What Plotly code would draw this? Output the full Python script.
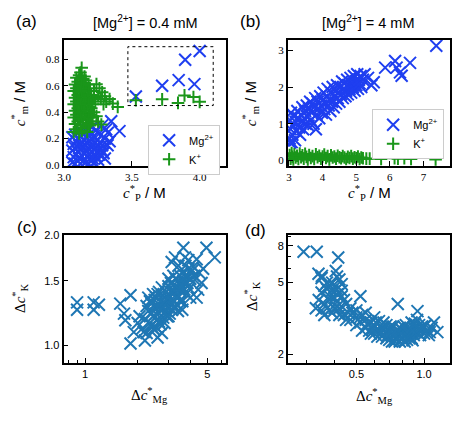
import plotly.graph_objects as go
import math

W, H = 458, 421

# ---------------- data ----------------
# panel (a): [Mg2+] = 0.4 mM
A_MG_X = [3.06,3.08,3.10,3.12,3.14,3.16,3.18,3.20,3.22,3.07,3.09,3.11,3.13,3.15,3.17,3.19,3.21,3.23,3.25,
          3.06,3.08,3.10,3.12,3.14,3.16,3.18,3.20,3.22,3.24,3.26,3.07,3.09,3.11,3.13,3.15,3.17,3.19,3.21,3.23,3.25,3.27,
          3.06,3.08,3.10,3.12,3.14,3.16,3.18,3.20,3.22,3.24,3.26,3.28,3.12,3.15,3.18,3.21,3.23,3.26,3.29,3.30,3.286,
          3.30,3.32,3.322,3.335,3.347,3.408,3.28,3.31,
          3.529,3.723,3.845,3.961,3.893,4.0]
A_MG_Y = [0.02,0.01,0.03,0.01,0.03,0.02,0.01,0.03,0.02,0.06,0.08,0.05,0.07,0.09,0.06,0.08,0.05,0.07,0.04,
          0.11,0.13,0.10,0.12,0.14,0.11,0.13,0.10,0.12,0.10,0.08,0.16,0.18,0.15,0.17,0.19,0.16,0.18,0.15,0.17,0.14,0.12,
          0.21,0.23,0.20,0.22,0.24,0.21,0.23,0.20,0.22,0.19,0.17,0.15,0.26,0.28,0.27,0.29,0.26,0.24,0.09,0.05,0.098,
          0.20,0.15,0.245,0.18,0.331,0.257,0.30,0.27,
          0.519,0.60,0.642,0.612,0.796,0.862]
A_K_X = [3.07,3.09,3.11,3.13,3.15,3.17,3.19,3.08,3.10,3.12,3.14,3.16,3.18,3.20,3.07,3.09,3.11,3.13,3.15,3.17,3.19,3.21,
         3.08,3.10,3.12,3.14,3.16,3.18,3.20,3.22,3.07,3.09,3.11,3.13,3.15,3.17,3.19,3.21,3.23,
         3.08,3.10,3.12,3.14,3.16,3.18,3.20,3.22,3.25,3.07,3.09,3.11,3.13,3.15,3.17,3.19,3.22,
         3.08,3.10,3.12,3.14,3.16,3.18,3.09,3.11,3.13,3.15,3.12,3.129,
         3.238,3.26,3.28,3.30,3.335,3.359,3.395,3.31,3.27,3.238,3.274,3.25,3.29,
         3.529,3.723,3.84,3.888,3.954,4.0]
A_K_Y = [0.25,0.27,0.24,0.26,0.28,0.25,0.30,0.31,0.33,0.30,0.32,0.34,0.31,0.33,0.36,0.38,0.35,0.37,0.39,0.36,0.38,0.36,
         0.41,0.43,0.40,0.42,0.44,0.41,0.43,0.40,0.46,0.48,0.45,0.47,0.49,0.46,0.48,0.46,0.48,
         0.51,0.53,0.50,0.52,0.54,0.51,0.53,0.51,0.52,0.56,0.58,0.55,0.57,0.59,0.56,0.58,0.56,
         0.61,0.63,0.60,0.62,0.64,0.61,0.66,0.68,0.65,0.67,0.70,0.735,
         0.612,0.58,0.55,0.52,0.50,0.465,0.44,0.48,0.50,0.37,0.306,0.33,0.46,
         0.49,0.497,0.47,0.527,0.515,0.478]

# panel (b): [Mg2+] = 4 mM
B_MG_X = [3.02,3.05,3.03,3.06,3.10,3.12,3.15,3.18,3.20,3.22,3.25,3.28,3.30,3.33,3.35,3.38,3.40,3.42,3.45,3.48,
          3.50,3.53,3.55,3.58,3.60,3.63,3.65,3.68,3.70,3.73,3.75,3.78,3.80,3.82,3.85,3.88,3.90,3.93,3.95,3.98,
          4.00,4.03,4.05,4.08,4.10,4.13,4.15,4.18,4.20,4.23,4.25,4.28,4.30,4.33,4.35,4.38,4.40,4.43,4.45,4.48,
          4.50,4.53,4.55,4.58,4.60,4.63,4.65,4.68,4.70,4.73,4.75,4.78,4.80,4.83,4.85,4.88,4.90,4.93,4.95,4.98,
          5.00,5.03,5.05,5.08,5.10,5.13,5.15,5.20,5.25,3.08,3.03,
          5.52,5.86,6.156,6.20,6.30,6.35,6.60,7.38,5.35,5.45]
B_MG_Y = [0.60,0.85,1.10,1.30,0.70,0.95,1.20,0.55,1.05,0.80,1.35,1.15,0.90,0.70,1.25,1.05,1.45,0.85,1.15,1.35,
          1.00,1.50,1.20,0.95,1.40,1.60,1.10,1.30,1.55,1.00,1.45,1.70,0.85,1.25,1.60,1.40,1.15,1.75,1.50,1.30,
          1.65,1.85,1.40,1.55,1.25,1.75,1.95,1.50,1.65,1.35,1.85,1.60,2.00,1.45,1.75,1.90,1.55,2.05,1.70,1.85,
          1.60,2.00,1.80,2.15,1.70,1.95,2.10,1.75,1.90,2.20,1.80,2.05,1.95,2.25,1.85,2.10,2.00,2.30,1.90,2.15,
          2.05,2.35,1.95,2.20,2.10,2.30,2.00,2.20,2.35,0.50,0.49,
          2.13,2.53,2.71,2.53,2.40,2.31,2.66,3.125,2.25,2.05]
B_K_X = [3.02,3.05,3.08,3.10,3.13,3.16,3.20,3.24,3.28,3.32,3.36,3.40,3.44,3.48,3.52,3.56,3.60,3.65,3.70,3.75,
         3.80,3.85,3.90,3.95,4.00,4.05,4.10,4.15,4.20,4.25,4.30,4.35,4.40,4.45,4.50,4.55,4.60,4.65,4.70,4.75,
         4.80,4.85,4.90,4.95,5.00,5.05,5.10,5.15,5.20,5.30,
         5.40,5.74,6.14,6.24,6.43,6.63,7.36]
B_K_Y = [0.15,0.05,0.20,0.10,0.03,0.17,0.08,0.13,0.04,0.19,0.09,0.14,0.05,0.18,0.10,0.03,0.15,0.07,0.12,0.04,
         0.17,0.09,0.13,0.05,0.11,0.16,0.07,0.12,0.03,0.14,0.08,0.11,0.05,0.13,0.09,0.06,0.12,0.08,0.04,0.10,
         0.07,0.12,0.05,0.09,0.06,0.11,0.04,0.08,0.06,0.05,
         0.05,0.04,0.06,0.05,0.06,0.04,0.03]

# panel (c)
C_X = [0.90,0.90,1.12,1.12,1.20,1.59,1.82,1.67,1.70,1.82,1.90,2.16,2.47,3.65,4.95,5.52,3.13,3.73,4.35,3.0,4.74,4.35,
       3.27,3.42,3.90,4.16,3.90,4.25,4.64,4.44,3.57,
       2.12,2.20,2.25,2.30,2.35,2.40,2.45,2.50,2.50,2.55,2.60,2.60,2.65,2.70,2.70,2.75,2.80,2.80,2.85,2.90,
       2.90,2.95,3.00,3.00,3.05,3.10,3.10,3.15,3.20,3.25,3.30,3.30,3.35,3.40,3.45,3.50,3.55,3.60,3.65,3.70,
       3.75,3.80,3.85,3.95,2.35,2.45,2.55,2.65,2.75,2.85,2.95,3.05,3.15,3.25,3.40,3.20,2.25,2.40,2.30,2.05,
       2.00,2.60,2.75,3.50,3.60,2.20,
       2.40,2.50,2.60,2.70,2.80,2.90,3.00,3.10,3.20,3.30,3.40,3.50,2.55,2.65,2.85,3.00,3.20,3.35,3.45,3.70,
       3.80,4.00,4.10,3.90,3.75,4.20,4.50,4.00,3.60]
C_Y = [1.31,1.25,1.31,1.25,1.29,1.30,1.37,1.22,1.17,1.01,1.086,1.086,1.108,1.85,1.85,1.74,1.69,1.74,1.72,1.52,1.62,1.35,
       1.74,1.65,1.71,1.64,1.54,1.51,1.48,1.42,1.45,
       1.11,1.18,1.08,1.24,1.15,1.30,1.20,1.10,1.27,1.35,1.18,1.28,1.22,1.32,1.14,1.26,1.37,1.19,1.30,1.24,
       1.40,1.33,1.27,1.45,1.36,1.30,1.48,1.40,1.33,1.44,1.37,1.52,1.29,1.44,1.36,1.48,1.40,1.32,1.50,1.42,
       1.55,1.38,1.48,1.43,1.32,1.38,1.12,1.40,1.44,1.15,1.20,1.22,1.25,1.28,1.24,1.55,1.28,1.13,1.35,1.20,
       1.15,1.05,1.08,1.32,1.58,1.03,
       1.22,1.33,1.38,1.25,1.30,1.33,1.35,1.40,1.42,1.45,1.50,1.55,1.22,1.16,1.22,1.20,1.27,1.35,1.42,1.48,
       1.55,1.52,1.60,1.62,1.65,1.55,1.58,1.35,1.25]

# panel (d)
D_X = [0.291,0.333,0.415,0.405,0.339,0.351,0.521,0.764,0.935,1.107,1.146,0.889,0.38,
       0.34,0.35,0.36,0.37,0.38,0.39,0.40,0.41,0.42,0.40,0.38,0.36,0.37,0.41,0.43,0.44,0.42,0.45,0.46,0.35,
       0.39,0.41,0.43,0.33,0.35,0.44,0.47,
       0.48,0.50,0.52,0.50,0.53,0.55,0.55,0.57,0.58,0.60,0.60,0.62,0.63,0.65,0.65,0.67,0.68,0.70,0.70,0.72,
       0.73,0.75,0.75,0.77,0.78,0.80,0.80,0.82,0.83,0.85,0.85,0.87,0.88,0.90,0.90,0.92,0.93,0.95,0.95,0.97,
       1.00,1.00,1.03,1.06,1.08,0.58,0.62,0.66,0.72,0.78,0.84,0.88,0.55,0.60,0.50,0.47,0.53,
       0.52,0.56,0.59,0.61,0.64,0.66,0.69,0.71,0.74,0.76,0.79,0.81,0.84,0.86,0.89,0.91,0.94,0.96,0.98,1.02,
       1.05,0.68,0.74,0.82,0.45,0.42,0.40,0.38,0.37,0.39,0.43,0.36,0.41]
D_Y = [7.43,7.43,6.9,5.8,5.6,5.45,4.2,3.8,3.47,3.0,2.65,2.39,4.82,
       4.0,4.4,3.8,4.6,4.2,5.0,4.7,4.3,5.2,3.6,3.5,3.3,5.0,3.9,4.5,4.0,3.6,3.8,3.4,5.3,
       4.5,5.4,4.9,3.6,3.5,3.3,3.6,
       3.4,3.2,3.0,2.9,3.3,2.8,3.1,2.7,3.0,2.6,2.9,2.75,3.05,2.5,2.8,2.65,2.45,2.7,2.4,2.55,
       2.85,2.4,2.65,2.5,2.8,2.45,2.7,2.55,2.9,2.5,2.75,2.6,3.0,2.55,2.8,2.65,3.1,2.6,2.9,2.7,
       2.6,2.85,2.7,2.65,2.8,2.6,2.5,3.0,2.35,2.35,2.4,2.45,3.4,3.2,3.5,3.1,2.7,
       3.2,2.95,2.75,3.0,2.6,2.75,2.55,2.85,2.55,2.75,2.6,2.85,2.65,2.45,2.7,2.95,2.75,2.55,2.85,2.9,
       2.55,2.9,2.35,2.35,3.1,3.3,4.1,4.0,3.6,3.4,4.2,4.8,4.6]

BLUE = "#1f3ff0"
GREEN = "#1a961a"
TAB = "#1f77b4"

def px_x(p):
    return p / W

def px_y(p):
    return 1 - p / H

fig = go.Figure()

def mk(symbol, color, size, lw):
    return dict(symbol=symbol, size=size, color=color, line=dict(color=color, width=lw))

fig.add_trace(go.Scatter(x=A_MG_X, y=A_MG_Y, mode="markers", name="Mg<sup>2+</sup>",
                         marker=mk("x-thin", BLUE, 12, 2), xaxis="x", yaxis="y", legend="legend"))
fig.add_trace(go.Scatter(x=A_K_X, y=A_K_Y, mode="markers", name="K<sup>+</sup>",
                         marker=mk("cross-thin", GREEN, 9, 2), xaxis="x", yaxis="y", legend="legend"))
fig.add_trace(go.Scatter(x=B_MG_X, y=B_MG_Y, mode="markers", name="Mg<sup>2+</sup>",
                         marker=mk("x-thin", BLUE, 12, 2), xaxis="x2", yaxis="y2", legend="legend2"))
fig.add_trace(go.Scatter(x=B_K_X, y=B_K_Y, mode="markers", name="K<sup>+</sup>",
                         marker=mk("cross-thin", GREEN, 9, 2), xaxis="x2", yaxis="y2", legend="legend2"))
fig.add_trace(go.Scatter(x=C_X, y=C_Y, mode="markers", showlegend=False,
                         marker=mk("x-thin", TAB, 12, 2), xaxis="x3", yaxis="y3"))
fig.add_trace(go.Scatter(x=D_X, y=D_Y, mode="markers", showlegend=False,
                         marker=mk("x-thin", TAB, 12, 2), xaxis="x4", yaxis="y4"))

SERIF = "Liberation Serif"
SANS = "Liberation Sans"

def ax(domain, anchor, rng, tickvals, ticktext=None, typ="linear", font=SERIF, minor=None):
    d = dict(domain=domain, anchor=anchor, range=rng, type=typ,
             showline=True, linecolor="black", linewidth=1.8, mirror=True,
             ticks="inside", ticklen=5, tickwidth=1.2, tickcolor="black",
             tickmode="array", tickvals=tickvals,
             showgrid=False, zeroline=False,
             tickfont=dict(family=font, size=11, color="black"))
    if ticktext is not None:
        d["ticktext"] = ticktext
    if minor is not None:
        d["minor"] = dict(tickmode="array", tickvals=minor, ticks="inside", ticklen=3,
                          tickwidth=1, tickcolor="black", showgrid=False)
    return d

XA = [58.3 / W, 223 / W]
XB = [285.7 / W, 450.3 / W]
YT = [px_y(164.3), px_y(35)]
YB = [px_y(366.3), px_y(235.5)]

fig.update_layout(
    width=W, height=H, margin=dict(l=0, r=0, t=0, b=0),
    paper_bgcolor="white", plot_bgcolor="white",
    xaxis=ax(XA, "y", [2.995, 4.195], [3.0, 3.5, 4.0], ["3.0", "3.5", "4.0"]),
    yaxis=ax(YT, "x", [-0.007, 0.945], [0, 0.2, 0.4, 0.6, 0.8], ["0.0", "0.2", "0.4", "0.6", "0.8"]),
    xaxis2=ax(XB, "y2", [2.97, 7.8], [3, 4, 5, 6, 7]),
    yaxis2=ax(YT, "x2", [-0.15, 3.28], [0, 1, 2, 3]),
    xaxis3=ax(XA, "y3", [math.log10(0.753), math.log10(6.41)], [1, 5], ["1", "5"], typ="log", font=SANS,
              minor=[0.8, 0.9, 2, 3, 4, 6]),
    yaxis3=ax(YB, "x3", [math.log10(0.895), math.log10(2.0)], [1.0, 1.5, 2.0], ["1.0", "1.5", "2.0"], typ="log",
              font=SANS),
    xaxis4=ax(XB, "y4", [math.log10(0.248), math.log10(1.31)], [0.5, 1.0], ["0.5", "1.0"], typ="log", font=SANS,
              minor=[0.3, 0.4, 0.6, 0.7, 0.8, 0.9]),
    yaxis4=ax(YB, "x4", [math.log10(1.79), math.log10(9.16)], [2, 5, 8], ["2", "5", "8"], typ="log", font=SANS,
              minor=[3, 4, 6, 7, 9]),
    legend=dict(x=144 / W, y=px_y(122), xanchor="left", yanchor="top", bgcolor="white",
                bordercolor="#cccccc", borderwidth=1, font=dict(family=SANS, size=11, color="black"),
                itemwidth=30, tracegroupgap=0),
    legend2=dict(x=371 / W, y=px_y(106), xanchor="left", yanchor="top", bgcolor="white",
                 bordercolor="#cccccc", borderwidth=1, font=dict(family=SANS, size=11, color="black"),
                 itemwidth=30, tracegroupgap=0),
    showlegend=True,
)

# dotted rectangle in panel (a)
fig.add_shape(type="rect", xref="x", yref="y", x0=3.47, x1=4.10, y0=0.45, y1=0.895,
              line=dict(color="black", width=1, dash="dot"))

def ann(text, x, y, size=15, angle=0, family=SERIF):
    fig.add_annotation(text=text, x=px_x(x), y=px_y(y), xref="paper", yref="paper",
                       showarrow=False, xanchor="center", yanchor="middle", textangle=angle,
                       font=dict(family=family, size=size, color="black"))

SL = "<span style=\"font-family:Liberation Sans\"> / M</span>"
ann("<i>c</i><sup>*</sup><sub>m</sub>" + SL, 14, 100, angle=-90)
ann("<i>c</i><sup>*</sup><sub>P</sub>" + SL, 140, 192)
ann("<i>c</i><sup>*</sup><sub>m</sub>" + SL, 248, 100, angle=-90)
ann("<i>c</i><sup>*</sup><sub>P</sub>" + SL, 368, 192)
ann("Δ<i>c</i><sup>*</sup><sub>K</sub>", 14, 300, angle=-90)
ann("Δ<i>c</i><sup>*</sup><sub>Mg</sub>", 145, 399)
ann("Δ<i>c</i><sup>*</sup><sub>K</sub>", 249, 298, angle=-90)
ann("Δ<i>c</i><sup>*</sup><sub>Mg</sub>", 373, 400)

ann("[Mg<sup>2+</sup>] = 0.4 mM", 141, 16, size=14.5, family=SANS)
ann("[Mg<sup>2+</sup>] = 4 mM", 367, 16, size=14.5, family=SANS)
ann("(a)", 21, 16, size=17, family=SANS)
ann("(b)", 248, 16, size=17, family=SANS)
ann("(c)", 21, 227, size=17, family=SANS)
ann("(d)", 253, 231, size=17, family=SANS)

fig.write_html("out.html")
